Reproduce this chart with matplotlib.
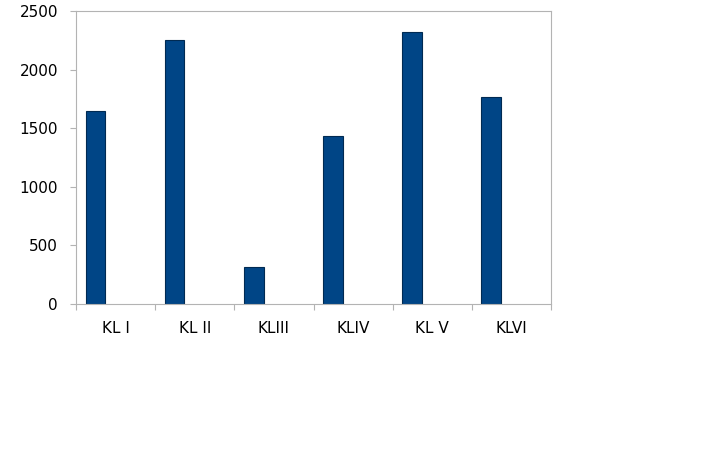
import matplotlib
matplotlib.use("Agg")
import matplotlib.pyplot as plt
import numpy as np

categories = ["KL I", "KL II", "KLIII", "KLIV", "KL V", "KLVI"]
values = [1650, 2250, 320, 1430, 2320, 1770]
yticks = [0, 500, 1000, 1500, 2000, 2500]

plt.rcParams['font.family'] = ['DejaVu Sans']

fig = plt.figure(figsize=(7.2, 4.5), dpi=100)
ax = fig.add_axes([0.1056, 0.3244, 0.6597, 0.6512])

x = np.arange(len(categories))
ax.bar(x - 0.5 + 0.12, values, width=0.25, align='edge',
       color='#004586', edgecolor='#002a52', linewidth=0.8)

ax.set_xlim(-0.5, len(categories) - 0.5)
ax.set_ylim(0, 2500)
ax.set_yticks(yticks)
ax.set_yticklabels([str(v) for v in yticks], fontsize=11)
ax.set_xticks(x)
ax.set_xticklabels(categories, fontsize=11)
ax.tick_params(axis='x', which='major', length=0, pad=12)
ax.set_xticks(np.arange(len(categories) + 1) - 0.5, minor=True)
ax.tick_params(axis='x', which='minor', length=4.5, color='#b3b3b3', width=0.8)
ax.tick_params(axis='y', length=4, color='#b3b3b3', width=0.8, pad=9)

for s in ax.spines.values():
    s.set_color('#b3b3b3')
    s.set_linewidth(0.8)

fig.savefig("out.png", dpi=100)
